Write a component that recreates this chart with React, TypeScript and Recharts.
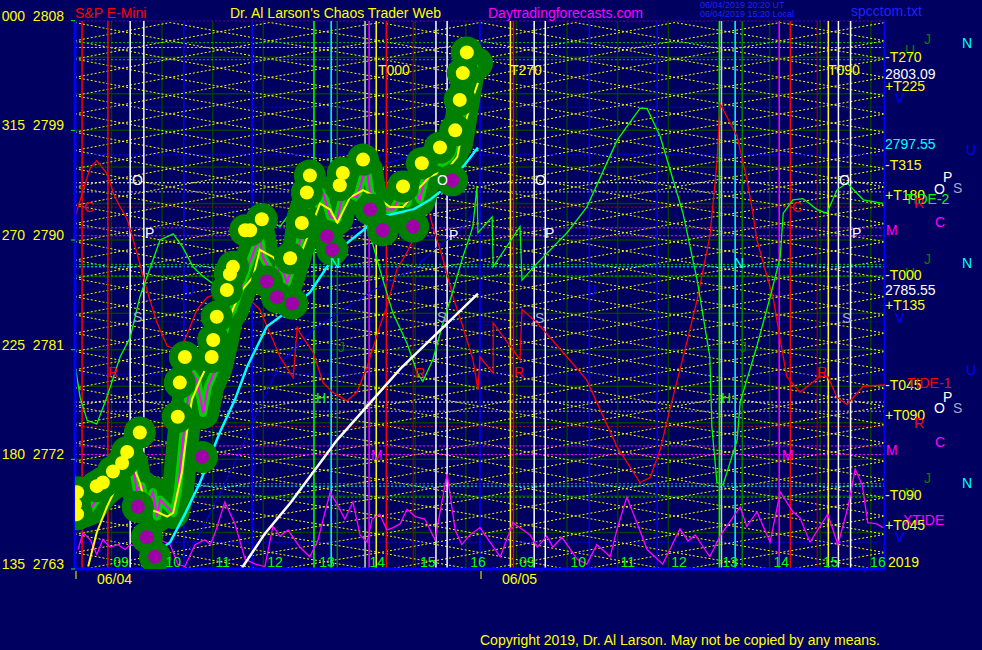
import React from 'react';
import { ComposedChart, Line, XAxis, YAxis } from 'recharts';

type Pt = [number, number];

// ---------- layout / style constants ----------
const W = 982;
const H = 650;
const M_TOP = 20.7;
const AXIS_W = 75;
const M_RIGHT = 97;
const AXIS_H = 81;
const BG = '#000060';
const FONT = "'Liberation Sans', Arial, sans-serif";
const YEL = '#ffff00';
const WHITE = '#ffffff';
const GREY = '#a8a8c8';
const RED = '#ff0000';
const DKRED = '#b00000';
const LIME = '#00ff00';
const DKG = '#008000';
const CYAN = '#00ffff';
const MAG = '#ff00ff';
const BLUE = '#0000ff';
const GRIDC = '#004000';
const PURPLE = '#a000a8';
const FAN_HALF = 0.75;

// ---------- axes ----------
const T_DOMAIN: [number, number] = [0, 16];
const V_DOMAIN: [number, number] = [2763, 2808];
const priceTicks = [2763, 2772, 2781, 2790, 2799, 2808];
const angleLabels = ['135', '180', '225', '270', '315', '000'];
const dayStarts = [0, 8];
const dayLabels = ['06/04', '06/05'];
const hourLabelT = [0.91, 1.94, 2.92, 3.95, 4.98, 5.97, 6.97, 7.96, 8.93, 9.94, 10.92, 11.93, 12.94, 13.95, 14.93, 15.86];
const hourLabels = ['09', '10', '11', '12', '13', '14', '15', '16', '09', '10', '11', '12', '13', '14', '15', '16'];
const hourGrid = [0.72, 1.72, 2.72, 3.72, 4.72, 5.72, 6.72, 7.72, 8.72, 9.72, 10.72, 11.72, 12.72, 13.72, 14.72, 15.72];
const gridLevels = [2766, 2769, 2772, 2775, 2778, 2781, 2784, 2787, 2790, 2793, 2796, 2799, 2802, 2805];

// ---------- lattice ----------
const fanLevels = [2763.6, 2765.1, 2766.6, 2768.1, 2769.6, 2771.1, 2772.6, 2774.1, 2775.6, 2777.1, 2778.6, 2780.1, 2781.6, 2783.1, 2784.6, 2786.1, 2787.6, 2789.1, 2790.6, 2792.1, 2793.6, 2795.1, 2796.6, 2798.1, 2799.6, 2801.1, 2802.6, 2804.1, 2805.6, 2807.1];
const fanNodes = [0, 1.88, 3.85, 6.02, 8.0, 9.88, 11.85, 13.93, 16];

// ---------- horizontal level lines ----------
const magentaLevels = [2808, 2791.0, 2790.35, 2773.1, 2772.4];
const greenLevels = [2806.2, 2804.8, 2788.0, 2787.05, 2770.0, 2768.9];
const cyanLevels = [2805.8, 2787.8, 2769.8];
const blueLevels = [2800.9, 2797.0, 2783.3, 2779.0, 2765.2];
const whiteLevels = [2794.7, 2776.7];
const greyLevels = [2793.95, 2775.95];
const redLevels = [2792.7, 2774.7];

// ---------- vertical time lines ----------
const blueTimes = [2.15, 3.5, 8.0, 10.16, 11.5];
const redTimes = [0.14, 0.65, 6.15, 8.66, 14.13];
const darkRedTimes = [6.68, 14.66];
const whiteTimes = [1.09, 1.36, 7.13, 7.35, 9.07, 9.29, 15.08, 15.32];
const silverTimes = [5.73, 12.77];
const limeTimes = [4.72, 12.73];
const darkGreenTimes = [5.18, 13.18];
const cyanTimes = [5.06, 13.04];
const yellowTimes = [5.95, 8.6, 14.88];
const magentaTimes = [5.81, 13.91];

// ---------- price series (hours from chart start, price) ----------
const closePrice: Pt[] = [
  [0.1, 2767.6], [0.3, 2767.9], [0.43, 2768.7], [0.55, 2769.3], [0.69, 2769.8], [0.85, 2770.9], [1.03, 2771.7],
  [1.13, 2771.7], [1.22, 2769.5], [1.32, 2769.8], [1.42, 2768.1], [1.54, 2769.3], [1.62, 2767.3], [1.68, 2768.7],
  [1.82, 2768.1], [1.94, 2767.6], [2.03, 2769.3], [2.13, 2773.6], [2.23, 2776.9], [2.31, 2779.1], [2.41, 2778.5],
  [2.53, 2775.8], [2.63, 2778.0], [2.8, 2779.6], [2.92, 2781.8], [3.0, 2783.5], [3.12, 2784.3], [3.26, 2785.9],
  [3.4, 2787.6], [3.6, 2789.8], [3.65, 2790.3], [3.71, 2788.6], [3.85, 2787.6], [3.99, 2787.0], [4.05, 2788.1],
  [4.19, 2786.5], [4.31, 2788.1], [4.44, 2789.8], [4.5, 2791.9], [4.64, 2793.5], [4.78, 2793.0], [4.9, 2793.9],
  [5.04, 2791.9], [5.18, 2791.7], [5.27, 2793.3], [5.37, 2793.9], [5.57, 2793.5], [5.69, 2795.2], [5.77, 2795.7],
  [5.83, 2793.9], [5.97, 2793.0], [6.16, 2792.5], [6.28, 2792.5], [6.42, 2793.5], [6.56, 2793.0], [6.68, 2794.4],
  [6.81, 2793.3], [6.95, 2795.7], [7.07, 2796.6], [7.27, 2796.3], [7.41, 2796.8], [7.55, 2798.0], [7.66, 2800.9],
  [7.74, 2802.9], [7.8, 2804.2], [7.94, 2804.5],
];
const highMarks: Pt[] = [
  [0.0, 2768.3], [0.04, 2769.3], [0.04, 2767.5], [0.43, 2769.8], [0.55, 2770.1], [0.75, 2771.0], [0.93, 2771.7],
  [1.03, 2772.6], [1.28, 2774.2], [2.03, 2775.5], [2.07, 2778.3], [2.17, 2780.4], [2.7, 2780.4], [2.73, 2781.8],
  [2.8, 2783.7], [3.0, 2785.9], [3.06, 2787.2], [3.12, 2787.8], [3.36, 2790.8], [3.46, 2790.8], [3.69, 2791.7],
  [4.25, 2788.5], [4.48, 2791.4], [4.58, 2793.9], [4.64, 2795.3], [5.23, 2794.5], [5.29, 2795.5], [5.69, 2796.6],
  [6.48, 2794.4], [6.85, 2796.3], [7.21, 2797.6], [7.51, 2799.0], [7.6, 2801.5], [7.66, 2803.7], [7.74, 2805.4],
];
const lowMarks: Pt[] = [
  [1.24, 2768.1], [1.42, 2765.6], [1.58, 2764.0], [2.51, 2772.2], [3.79, 2786.6], [3.99, 2785.3], [4.29, 2784.8],
  [4.98, 2790.3], [5.08, 2789.2], [5.83, 2792.5], [6.08, 2790.8], [6.68, 2791.1], [7.45, 2794.9],
];
const avgYellow: Pt[] = [
  [0.26, 2763.2], [0.43, 2766.0], [0.63, 2768.1], [0.79, 2769.5], [1.03, 2771.2], [1.15, 2771.4], [1.28, 2770.1],
  [1.42, 2767.9], [1.62, 2767.7], [1.82, 2767.3], [1.94, 2767.6], [2.11, 2770.9], [2.21, 2774.2], [2.31, 2776.9],
  [2.47, 2778.5], [2.67, 2780.2], [2.86, 2781.8], [3.12, 2784.3], [3.26, 2785.7], [3.52, 2787.0], [3.65, 2789.2],
  [3.91, 2788.6], [4.19, 2787.3], [4.39, 2788.1], [4.64, 2790.8], [4.84, 2793.0], [5.04, 2792.5], [5.18, 2791.4],
  [5.43, 2793.5], [5.69, 2794.1], [5.97, 2793.5], [6.22, 2792.7], [6.48, 2792.7], [6.76, 2794.1], [7.01, 2795.2],
  [7.35, 2795.8], [7.55, 2796.8], [7.66, 2799.0], [7.86, 2801.7], [7.96, 2802.9],
];
const avgCyan: Pt[] = [
  [1.32, 2763.2], [1.48, 2764.0], [1.88, 2765.2], [2.17, 2767.5], [2.47, 2770.1], [2.86, 2774.2], [3.16, 2776.9],
  [3.4, 2779.6], [3.79, 2782.9], [4.31, 2784.5], [4.64, 2785.7], [4.98, 2787.8], [5.33, 2789.6], [5.63, 2790.6],
  [6.02, 2791.9], [6.68, 2792.5], [7.01, 2793.3], [7.35, 2794.4], [7.7, 2796.2], [7.96, 2797.6],
];
const avgWhite: Pt[] = [
  [3.3, 2763.1], [3.75, 2765.9], [4.25, 2768.4], [5.18, 2773.6], [6.42, 2779.4], [7.96, 2785.6],
];
const avgBlue: Pt[] = [
  [2.27, 2764.6], [2.47, 2765.9], [3.12, 2771.4], [3.6, 2775.8], [4.05, 2779.9], [4.7, 2782.6], [5.37, 2784.5],
  [6.02, 2786.2], [6.68, 2787.6], [7.15, 2789.4], [7.6, 2790.8], [7.86, 2792.2], [8.0, 2793.0],
];
const avgBlueUpper: Pt[] = [
  [6.02, 2795.8], [6.16, 2796.3], [6.48, 2796.7], [6.81, 2797.1], [7.21, 2797.2],
];
const tide1Red: Pt[] = [
  [0.02, 2792.1], [0.16, 2794.1], [0.3, 2795.9], [0.43, 2796.5], [0.63, 2795.5], [0.79, 2793.5], [1.03, 2791.7],
  [1.22, 2789.0], [1.42, 2785.9], [1.62, 2783.2], [1.82, 2781.3], [2.01, 2781.0], [2.17, 2781.8], [2.41, 2784.3],
  [2.61, 2785.3], [2.86, 2785.7], [3.12, 2785.9], [3.46, 2785.1], [3.65, 2784.3], [3.91, 2781.8], [4.05, 2780.4],
  [4.31, 2778.7], [4.39, 2782.9], [4.44, 2782.4], [4.7, 2780.8], [4.9, 2778.3], [5.09, 2777.5], [5.37, 2776.8],
  [5.57, 2777.5], [5.77, 2779.6], [6.02, 2782.9], [6.16, 2784.5], [6.36, 2787.6], [6.56, 2789.0], [6.76, 2790.8],
  [6.87, 2792.7], [6.95, 2792.9], [7.07, 2791.1], [7.27, 2788.4], [7.47, 2785.3], [7.66, 2782.9], [7.86, 2780.2],
  [7.96, 2777.7], [8.0, 2780.4], [8.26, 2779.1], [8.26, 2783.2], [8.79, 2780.2], [8.83, 2784.3], [9.13, 2783.2],
  [9.72, 2780.4], [10.11, 2778.5], [10.37, 2776.1], [10.71, 2773.0], [11.16, 2770.1], [11.36, 2770.5],
  [11.56, 2772.8], [11.75, 2776.1], [12.05, 2781.0], [12.29, 2785.1], [12.54, 2790.3], [12.68, 2796.3],
  [12.74, 2801.2], [13.08, 2798.5], [13.27, 2795.0], [13.39, 2792.2], [13.47, 2790.0], [13.63, 2787.6],
  [13.79, 2785.3], [13.93, 2781.8], [14.06, 2778.8], [14.32, 2777.5], [14.72, 2778.8], [14.87, 2778.8],
  [15.05, 2777.1], [15.25, 2776.5], [15.57, 2778.0], [16.0, 2778.1],
];
const tide2Green: Pt[] = [
  [0.0, 2779.8], [0.1, 2777.1], [0.24, 2775.2], [0.43, 2774.9], [0.63, 2777.1], [0.89, 2780.4], [1.09, 2782.0],
  [1.28, 2785.3], [1.68, 2790.0], [1.94, 2790.5], [2.13, 2789.4], [2.33, 2787.8], [2.53, 2787.0], [2.8, 2786.2],
  [3.06, 2788.1], [3.4, 2789.7], [3.79, 2791.7], [4.05, 2791.1], [4.31, 2792.6], [4.78, 2794.6], [5.29, 2794.1],
  [5.63, 2792.7], [5.77, 2791.3], [6.02, 2787.6], [6.28, 2784.0], [6.56, 2781.5], [6.76, 2779.1], [6.87, 2778.4],
  [7.07, 2780.2], [7.27, 2783.2], [7.47, 2785.9], [7.66, 2788.6], [7.86, 2791.1], [7.94, 2794.4], [7.96, 2790.6],
  [8.24, 2791.9], [8.26, 2787.8], [8.79, 2791.1], [8.83, 2786.7], [9.13, 2788.1], [9.72, 2790.6], [10.11, 2792.7],
  [10.71, 2798.2], [11.16, 2800.8], [11.3, 2800.8], [11.56, 2798.5], [12.01, 2792.2], [12.29, 2786.7],
  [12.54, 2780.4], [12.58, 2774.7], [12.68, 2770.1], [12.8, 2769.9], [13.08, 2773.6], [13.14, 2776.7],
  [13.47, 2781.3], [13.73, 2785.3], [13.93, 2788.6], [13.99, 2792.2], [14.18, 2793.3], [14.38, 2793.4],
  [14.66, 2792.5], [14.85, 2792.2], [15.05, 2794.1], [15.25, 2794.7], [15.57, 2793.3], [15.96, 2793.0],
];
const xtide: Pt[] = [
  [0.06, 2764.6], [0.16, 2766.0], [0.3, 2765.4], [0.43, 2764.2], [0.55, 2765.4], [0.69, 2764.8], [0.85, 2765.0],
  [0.99, 2764.6], [1.09, 2765.0], [1.28, 2764.8], [1.48, 2763.8], [1.68, 2765.4], [1.88, 2765.0], [2.03, 2763.4],
  [2.17, 2763.2], [2.37, 2765.0], [2.57, 2765.4], [2.67, 2765.0], [2.77, 2766.0], [2.96, 2768.5], [3.16, 2766.7],
  [3.36, 2763.8], [3.56, 2763.4], [3.75, 2763.2], [3.91, 2766.5], [4.05, 2765.7], [4.21, 2766.2], [4.44, 2764.8],
  [4.64, 2764.0], [4.8, 2765.4], [5.04, 2769.3], [5.18, 2768.3], [5.33, 2767.1], [5.49, 2768.5], [5.63, 2765.8],
  [5.77, 2765.2], [5.87, 2767.1], [6.02, 2767.5], [6.16, 2766.2], [6.28, 2766.4], [6.42, 2766.7], [6.56, 2767.9],
  [6.72, 2767.3], [6.91, 2767.1], [7.11, 2765.4], [7.35, 2770.8], [7.51, 2766.2], [7.64, 2765.0], [7.8, 2765.8],
  [8.0, 2766.4], [8.4, 2764.0], [8.65, 2766.8], [8.99, 2765.8], [9.13, 2764.8], [9.32, 2765.7], [9.44, 2764.8],
  [9.62, 2765.6], [9.92, 2763.8], [10.11, 2763.4], [10.31, 2765.0], [10.57, 2764.0], [10.71, 2766.3],
  [10.9, 2768.9], [11.1, 2766.8], [11.3, 2764.6], [11.61, 2763.4], [11.95, 2766.3], [12.11, 2765.3],
  [12.25, 2765.8], [12.54, 2764.0], [12.74, 2765.7], [13.14, 2768.1], [13.27, 2766.5], [13.47, 2767.7],
  [13.73, 2765.2], [13.93, 2769.3], [14.18, 2767.7], [14.32, 2767.2], [14.52, 2765.2], [14.87, 2767.5],
  [15.07, 2765.0], [15.27, 2768.1], [15.41, 2771.2], [15.55, 2769.9], [15.66, 2766.8], [15.84, 2766.7],
  [15.96, 2766.4],
];

// ---------- text annotations ----------
type Note = [string, number, number, string];
const rightNotes: Note[] = [
  ['J', 924, 39, DKG], ['N', 962, 43, CYAN], ['U', 905, 50, DKG], ['-T270', 885, 57, YEL], ['2803.09', 885, 74, WHITE],
  ['+T225', 885, 86, YEL], ['V', 895, 98, BLUE], ['2797.55', 885, 144, CYAN], ['U', 966, 150, BLUE],
  ['-T315', 885, 165, YEL], ['P', 943, 177, WHITE], ['O', 934, 189, WHITE], ['S', 953, 188, GREY],
  ['+T180', 885, 195, YEL], ['TIDE-2', 905, 199, LIME], ['R', 914, 203, RED], ['C', 935, 222, MAG], ['M', 886, 230, MAG],
  ['J', 924, 259, DKG], ['N', 962, 263, CYAN], ['U', 905, 273, DKG], ['-T000', 885, 275, YEL], ['2785.55', 885, 290, WHITE],
  ['+T135', 885, 305, YEL], ['V', 895, 318, BLUE], ['U', 966, 370, BLUE], ['-T045', 885, 385, YEL],
  ['TIDE-1', 907, 383, RED], ['P', 943, 397, WHITE], ['O', 934, 408, WHITE], ['S', 953, 408, GREY],
  ['+T090', 885, 415, YEL], ['R', 914, 423, RED], ['C', 935, 442, MAG], ['M', 886, 450, MAG],
  ['J', 924, 478, DKG], ['N', 962, 483, CYAN], ['U', 905, 493, DKG], ['-T090', 885, 495, YEL],
  ['XTIDE', 903, 520, MAG], ['+T045', 885, 525, YEL], ['V', 895, 537, BLUE], ['2019', 888, 562, YEL],
];
const plotNotes: Note[] = [
  ['T000', 378, 70, YEL], ['T270', 510, 70, YEL], ['T090', 828, 70, YEL],
  ['C', 84, 207, RED], ['O', 132, 180, WHITE], ['P', 145, 233, WHITE], ['S', 133, 317, GREY], ['R', 108, 372, RED],
  ['U', 185, 290, BLUE], ['N', 330, 263, CYAN], ['J', 338, 347, DKG], ['H', 316, 398, LIME], ['M', 371, 455, MAG],
  ['O', 437, 180, WHITE], ['P', 449, 235, WHITE], ['S', 437, 317, GREY], ['R', 415, 373, RED],
  ['O', 535, 180, WHITE], ['P', 545, 233, WHITE], ['S', 535, 318, GREY], ['U', 587, 290, BLUE], ['R', 514, 372, RED],
  ['C', 792, 207, RED], ['N', 734, 263, CYAN], ['J', 740, 347, DKG], ['H', 721, 398, LIME], ['M', 782, 455, MAG],
  ['O', 839, 180, WHITE], ['P', 852, 233, WHITE], ['S', 842, 318, GREY], ['R', 817, 372, RED],
];

// ---------- helpers ----------
const pts = (a: Pt[]) => a.map(([t, v]) => ({ t, v }));
const vline = (t: number) => [{ t, v: V_DOMAIN[0] }, { t, v: V_DOMAIN[1] }];
const hline = (v: number) => [{ t: T_DOMAIN[0], v }, { t: T_DOMAIN[1], v }];
const plotW = W - AXIS_W - M_RIGHT;
const tx = (t: number) => AXIS_W + ((t - T_DOMAIN[0]) / (T_DOMAIN[1] - T_DOMAIN[0])) * plotW;
const plotBottom = H - AXIS_H;

const line = (key: string, data: any[], stroke: string, width: number, dash?: string, extra: any = {}) => (
  <Line
    key={key}
    data={data}
    dataKey="v"
    type="linear"
    stroke={stroke}
    strokeWidth={width}
    strokeDasharray={dash}
    dot={false}
    activeDot={false}
    isAnimationActive={false}
    legendType="none"
    {...extra}
  />
);

const PriceTick = (props: any) => {
  const { y, payload } = props;
  const i = priceTicks.indexOf(payload.value);
  return (
    <g>
      <line x1={71} x2={75} y1={y} y2={y} stroke={LIME} strokeWidth={1} />
      <text x={25} y={y} fill={YEL} fontSize={14} fontFamily={FONT} textAnchor="end">{angleLabels[i]}</text>
      <text x={64} y={y} fill={YEL} fontSize={14} fontFamily={FONT} textAnchor="end">{payload.value}</text>
    </g>
  );
};

const DayTick = (props: any) => {
  const { x, payload } = props;
  const i = dayStarts.indexOf(payload.value);
  return (
    <g>
      <line x1={x + 1} x2={x + 1} y1={plotBottom + 2} y2={plotBottom + 10} stroke={YEL} strokeWidth={1} />
      <text x={x + 22} y={plotBottom + 15} fill={YEL} fontSize={14} fontFamily={FONT}>{dayLabels[i]}</text>
    </g>
  );
};

const fanLines = fanLevels.flatMap((L, i) =>
  [0, 1].map((ph) => ({
    key: `fan-${i}-${ph}`,
    data: fanNodes.map((t, k) => ({ t, v: L + ((k + ph) % 2 === 0 ? FAN_HALF : -FAN_HALF) })),
  })),
);

const levelGroups: [number[], string][] = [
  [magentaLevels, MAG], [greenLevels, '#00c000'], [cyanLevels, CYAN], [blueLevels, BLUE],
  [whiteLevels, WHITE], [greyLevels, GREY], [redLevels, DKRED],
];
const timeGroups: [number[], string, number][] = [
  [blueTimes, BLUE, 1.5], [redTimes, RED, 1.5], [darkRedTimes, DKRED, 1], [whiteTimes, WHITE, 1.5],
  [silverTimes, '#c8c8e0', 1.5], [limeTimes, LIME, 1.5], [darkGreenTimes, DKG, 1.5], [cyanTimes, CYAN, 1.5],
  [yellowTimes, YEL, 1.5], [magentaTimes, MAG, 1.5],
];

const txt = (n: Note, i: number, prefix: string) => (
  <text key={`${prefix}-${i}`} x={n[1]} y={n[2]} fill={n[3]} fontSize={14} fontFamily={FONT} dominantBaseline="central">
    {n[0]}
  </text>
);

export default function App() {
  return (
    <div style={{ position: 'fixed', left: 0, top: 0, width: W, height: H, background: BG, overflow: 'hidden' }}>
      <div style={{ position: 'absolute', left: 0, top: 0 }}>
        <ComposedChart width={W} height={H} margin={{ top: M_TOP, right: M_RIGHT, bottom: 0, left: 0 }}>
          <XAxis
            type="number"
            dataKey="t"
            domain={T_DOMAIN}
            ticks={dayStarts}
            interval={0}
            allowDataOverflow
            height={AXIS_H}
            axisLine={{ stroke: BLUE, strokeWidth: 3 }}
            tickLine={false}
            tick={<DayTick />}
          />
          <YAxis
            type="number"
            dataKey="v"
            domain={V_DOMAIN}
            ticks={priceTicks}
            interval={0}
            allowDataOverflow
            width={AXIS_W}
            axisLine={{ stroke: BLUE, strokeWidth: 3 }}
            tickLine={false}
            tick={<PriceTick />}
          />
          {gridLevels.map((v) => line(`gh-${v}`, hline(v), GRIDC, 1.5))}
          {hourGrid.map((t) => line(`gv-${t}`, vline(t), GRIDC, 1.5))}
          {fanLines.map((f) => line(f.key, f.data, YEL, 1, '2 2'))}
          {levelGroups.flatMap(([vals, c], gi) => vals.map((v) => line(`lv-${gi}-${v}`, hline(v), c, 1, '2 2')))}
          {timeGroups.flatMap(([vals, c, w], gi) => vals.map((t) => line(`tv-${gi}-${t}`, vline(t), c, w)))}
          {line('border-r', vline(T_DOMAIN[1]), BLUE, 3)}
          {line('blue-ma', pts(avgBlue), BLUE, 1)}
          {line('blue-ma2', pts(avgBlueUpper), BLUE, 1)}
          {line('tide1', pts(tide1Red), RED, 1.3)}
          {line('tide2', pts(tide2Green), LIME, 1.3)}
          {line('xtide', pts(xtide), MAG, 1.3)}
          {line('halo-close', pts(closePrice), DKG, 32, undefined, { strokeLinecap: 'round', strokeLinejoin: 'round' })}
          {line('halo-hi', pts(highMarks), 'none', 0, undefined, { dot: { r: 16, fill: DKG, stroke: 'none' } })}
          {line('halo-lo', pts(lowMarks), 'none', 0, undefined, { dot: { r: 16, fill: DKG, stroke: 'none' } })}
          {line('inner', pts(closePrice), '#00d000', 8, undefined, { strokeLinejoin: 'round' })}
          {line('dots-hi', pts(highMarks), 'none', 0, undefined, { dot: { r: 7, fill: YEL, stroke: 'none' } })}
          {line('dots-lo', pts(lowMarks), 'none', 0, undefined, { dot: { r: 7, fill: PURPLE, stroke: 'none' } })}
          {line('close', pts(closePrice), MAG, 2)}
          {line('ma-yellow', pts(avgYellow), YEL, 2)}
          {line('ma-cyan', pts(avgCyan), CYAN, 2.5)}
          {line('ma-white', pts(avgWhite), WHITE, 2.5)}
        </ComposedChart>
      </div>
      <svg width={W} height={H} style={{ position: 'absolute', left: 0, top: 0, pointerEvents: 'none' }}>
        <text x={75} y={18} fill={RED} fontSize={14} fontFamily={FONT}>S&amp;P E-Mini</text>
        <text x={230} y={18} fill={YEL} fontSize={14} fontFamily={FONT}>Dr. Al Larson's Chaos Trader Web</text>
        <text x={488} y={18} fill={MAG} fontSize={14} fontFamily={FONT}>Daytradingforecasts.com</text>
        <text x={700} y={8} fill="#2020ff" fontSize={9} fontFamily={FONT}>06/04/2019 20:20 UT</text>
        <text x={700} y={17} fill="#2020ff" fontSize={9} fontFamily={FONT}>06/04/2019 15:20 Local</text>
        <text x={851} y={16} fill="#2020ff" fontSize={14} fontFamily={FONT}>spcctom.txt</text>
        {hourLabelT.map((t, i) => (
          <text key={`hl-${i}`} x={tx(t)} y={plotBottom - 2} fill={LIME} fontSize={14} fontFamily={FONT} textAnchor="middle">
            {hourLabels[i]}
          </text>
        ))}
        {plotNotes.map((n, i) => txt(n, i, 'pn'))}
        {rightNotes.map((n, i) => txt(n, i, 'rn'))}
        <text x={480} y={645} fill={YEL} fontSize={14} fontFamily={FONT}>
          Copyright 2019, Dr. Al Larson. May not be copied by any means.
        </text>
      </svg>
    </div>
  );
}
